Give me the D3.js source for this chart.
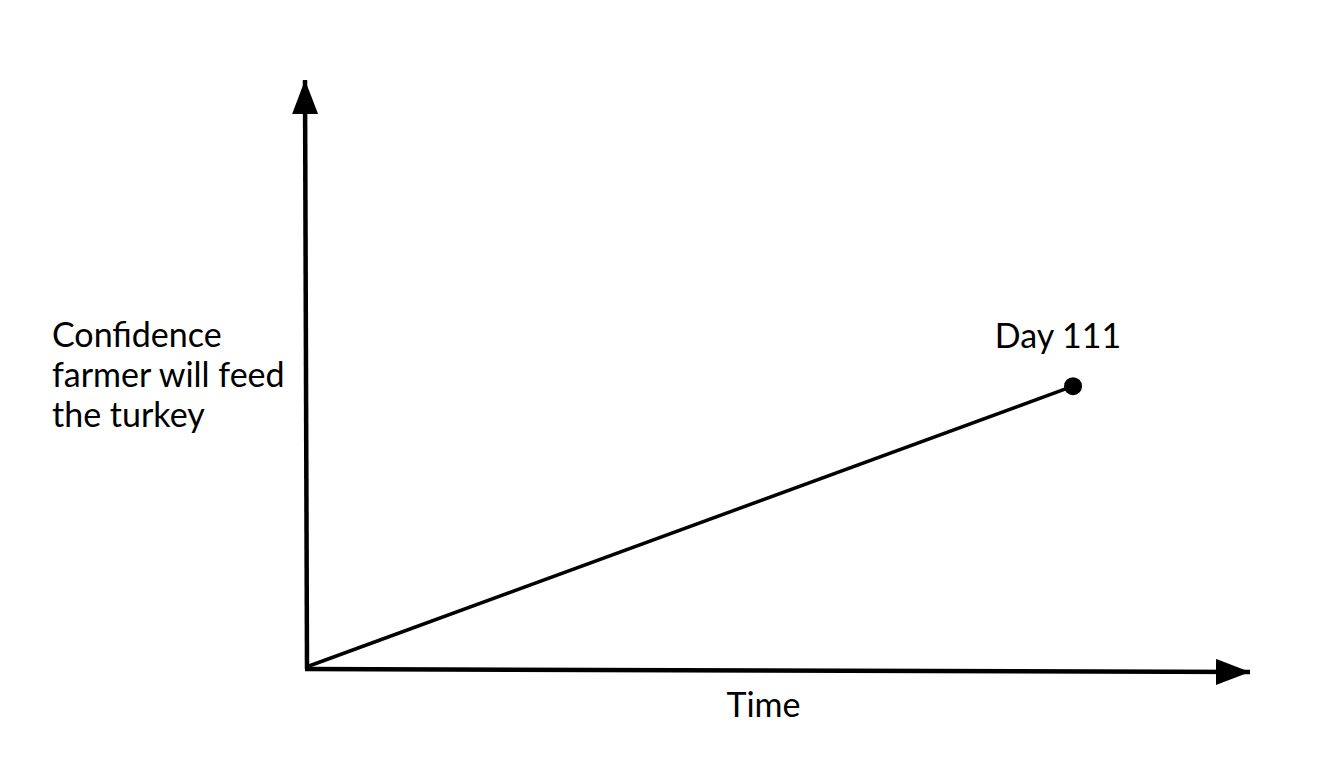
<!DOCTYPE html>
<html>
<head>
<meta charset="utf-8">
<script src="https://cdn.jsdelivr.net/npm/d3@7"></script>
<style>
  html, body { margin: 0; padding: 0; background: #fff; }
  text { font-family: Lato, "Noto Sans", sans-serif; fill: #000; }
</style>
</head>
<body>
<div id="container"></div>
<script>
// data
var days = [0, 111];
var confidence = [0, 47.5];
var xMax = 137, yMax = 100;
var pointLabel = "Day 111";
var xTitle = "Time";
var yTitle = ["Confidence", "farmer will feed", "the turkey"];

var width = 1336,
    height = 778;

var svg = d3.select("#container").append("svg")
    .attr("width", width)
    .attr("height", height);

var x = d3.scaleLinear().domain([0, xMax]).range([307, 1250]);
var y = d3.scaleLinear().domain([0, yMax]).range([669, 80]);

// arrow heads
var defs = svg.append("defs");
defs.append("marker")
    .attr("id", "arrow")
    .attr("viewBox", "0 0 34 26")
    .attr("refX", 34)
    .attr("refY", 13)
    .attr("markerWidth", 34)
    .attr("markerHeight", 26)
    .attr("markerUnits", "userSpaceOnUse")
    .attr("orient", "auto")
    .append("path")
    .attr("d", "M0,0 L34,13 L0,26 Z")
    .attr("fill", "#000");

// axes
svg.append("line")
    .attr("x1", x(0)).attr("y1", y(0))
    .attr("x2", x(0) - 2).attr("y2", y(yMax))
    .attr("stroke", "#000").attr("stroke-width", 4.5)
    .attr("marker-end", "url(#arrow)");

svg.append("line")
    .attr("x1", x(0) - 2).attr("y1", y(0))
    .attr("x2", x(xMax)).attr("y2", y(0) + 3)
    .attr("stroke", "#000").attr("stroke-width", 4.5)
    .attr("marker-end", "url(#arrow)");

// the series
var pts = days.map(function (d, i) { return { day: d, conf: confidence[i] }; });

var line = d3.line()
    .x(function (d) { return x(d.day) + 2; })
    .y(function (d) { return y(d.conf) - 3; });

svg.append("path")
    .datum(pts)
    .attr("d", line)
    .attr("fill", "none")
    .attr("stroke", "#000")
    .attr("stroke-width", 3.5);

var last = pts[pts.length - 1];
svg.append("circle")
    .attr("cx", x(last.day) + 2)
    .attr("cy", y(last.conf) - 3)
    .attr("r", 9)
    .attr("fill", "#000");

svg.append("text")
    .attr("x", x(last.day) - 13)
    .attr("y", y(last.conf) - 41)
    .attr("text-anchor", "middle")
    .style("font-size", "34px")
    .text(pointLabel);

// titles
svg.append("text")
    .attr("x", 763.5)
    .attr("y", 717)
    .attr("text-anchor", "middle")
    .style("font-size", "34px")
    .text(xTitle);

svg.append("text")
    .attr("x", 52)
    .attr("y", 346.5)
    .style("font-size", "34px")
    .selectAll("tspan")
    .data(yTitle)
    .enter().append("tspan")
    .attr("x", 52)
    .attr("dy", function (d, i) { return i === 0 ? 0 : 40; })
    .text(function (d) { return d; });
</script>
</body>
</html>
